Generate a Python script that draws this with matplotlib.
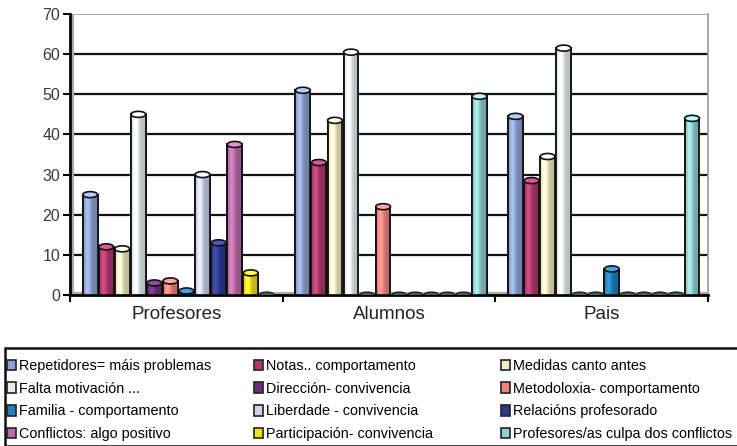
import matplotlib
matplotlib.use("Agg")
import matplotlib.pyplot as plt
import numpy as np
from matplotlib.patches import Ellipse, Rectangle, Patch
from matplotlib.colors import to_rgb

plt.rcParams['font.family'] = ['Liberation Sans', 'DejaVu Sans']

categories = ["Profesores", "Alumnos", "Pais"]
series_names = [
    "Repetidores= máis problemas", "Notas.. comportamento", "Medidas canto antes",
    "Falta motivación ...", "Dirección- convivencia", "Metodoloxia- comportamento",
    "Familia - comportamento", "Liberdade - convivencia", "Relacións profesorado",
    "Conflictos: algo positivo", "Participación- convivencia", "Profesores/as culpa dos conflictos",
]
colors = ["#8FA3D3", "#B2386F", "#F4EBC4", "#E4EEF0", "#6F2D80", "#F0827C",
          "#1F80BF", "#CCD3EA", "#2E3A92", "#BC6CA8", "#F2E01E", "#90CFCF"]
# values per series: [Profesores, Alumnos, Pais]
repetidores = [25, 51, 44.5]
notas = [12, 33, 28.5]
medidas = [11.5, 43.5, 34.5]
falta = [45, 60.5, 61.5]
direccion = [3, 0, 0]
metodoloxia = [3.5, 22, 0]
familia = [1, 0, 6.5]
liberdade = [30, 0, 0]
relacions = [13, 0, 0]
conflictos = [37.5, 0, 0]
participacion = [5.5, 0, 0]
culpa = [0, 49.5, 44]
values = [repetidores, notas, medidas, falta, direccion, metodoloxia,
          familia, liberdade, relacions, conflictos, participacion, culpa]
yticks = [0, 10, 20, 30, 40, 50, 60, 70]

W, H = 737, 446
fig = plt.figure(figsize=(W / 100, H / 100), dpi=100)
ax = fig.add_axes([70 / W, 1 - 295 / H, 638 / W, 281 / H])

n = len(values)
bw = 0.0755
x = np.arange(len(categories))
offsets = (np.arange(n) - (n - 1) / 2) * bw
ell_h = 1.5

for i, (vals, c) in enumerate(zip(values, colors)):
    pos = x + offsets[i] + 0.01
    bars = ax.bar(pos, vals, width=bw * 0.92, color=c, edgecolor="#111111",
                  linewidth=1.3, zorder=3)
    base = np.array(to_rgb(c))
    t = np.linspace(0, 1, 40)
    shade = 0.8 + 0.28 * np.exp(-((t - 0.3) / 0.25) ** 2)
    grad = np.clip(base[None, :] * shade[:, None] + 0.07 * np.exp(-((t - 0.3) / 0.2) ** 2)[:, None], 0, 1)
    for b, v in zip(bars, vals):
        if v > 0:
            im = ax.imshow(grad[None, :, :], extent=(b.get_x(), b.get_x() + b.get_width(), 0, v),
                           aspect="auto", zorder=3.5, interpolation="bilinear")
            im.set_clip_path(b)
            ax.add_patch(Rectangle((b.get_x(), 0), b.get_width(), v, fill=False,
                                   edgecolor="#111111", lw=1.3, zorder=3.6))
        top = Ellipse((b.get_x() + b.get_width() / 2, v), b.get_width(), ell_h,
                      facecolor=np.clip(base * 1.1 + 0.1, 0, 1) if v > 0 else "#4a5a5a",
                      edgecolor="#111111", lw=1.2 if v > 0 else 0.8, zorder=4)
        ax.add_patch(top)

ax.set_xlim(-0.5, 2.5)
ax.set_ylim(0, 70)
ax.set_yticks(yticks)
ax.set_yticklabels([str(v) for v in yticks], fontsize=11.5, color="#3a3a3a")
ax.set_xticks([-0.5, 0.5, 1.5, 2.5])
ax.set_xticklabels([])
ax.set_xticks(x, minor=True)
ax.set_xticklabels(categories, minor=True, fontsize=13.5, color="#222222")
ax.tick_params(axis="x", which="minor", length=0, pad=8)
ax.tick_params(axis="x", which="major", length=5, width=1.5, direction="out")
ax.tick_params(axis="y", length=5, width=1.5, direction="out", pad=2)

for yv in yticks[1:-1]:
    ax.axhline(yv, color="#111111", lw=1.6, zorder=1)
ax.axhline(70, color="#999999", lw=1.2, zorder=1)
ax.axhline(0.35, color="#aaaaaa", lw=3, zorder=2)
ax.axvline(-0.485, color="#aaaaaa", lw=1.5, zorder=1)
for s in ["top", "right"]:
    ax.spines[s].set_visible(False)
ax.axvline(2.5, color="#999999", lw=1.2, zorder=1, clip_on=False)
ax.spines["left"].set_linewidth(2)
ax.spines["bottom"].set_linewidth(2)

# legend box
fig.add_artist(Rectangle((5 / W, 0), 740 / W, 1 - 348 / H, transform=fig.transFigure,
                         fill=False, edgecolor="#111111", lw=1.8, clip_on=False))
col_x = [7, 254, 501]
for ci in range(3):
    hs = [Patch(facecolor=colors[j], edgecolor="#222222", lw=1.2) for j in range(ci, n, 3)]
    ls = [series_names[j] for j in range(ci, n, 3)]
    fig.legend(hs, ls, loc="upper left", bbox_to_anchor=(col_x[ci] / W, 1 - 359 / H),
               frameon=False, fontsize=10.4, handlelength=0.65, handleheight=0.75,
               handletextpad=0.15, labelspacing=0.6, borderpad=0, borderaxespad=0)

fig.savefig("out.png", dpi=100)
